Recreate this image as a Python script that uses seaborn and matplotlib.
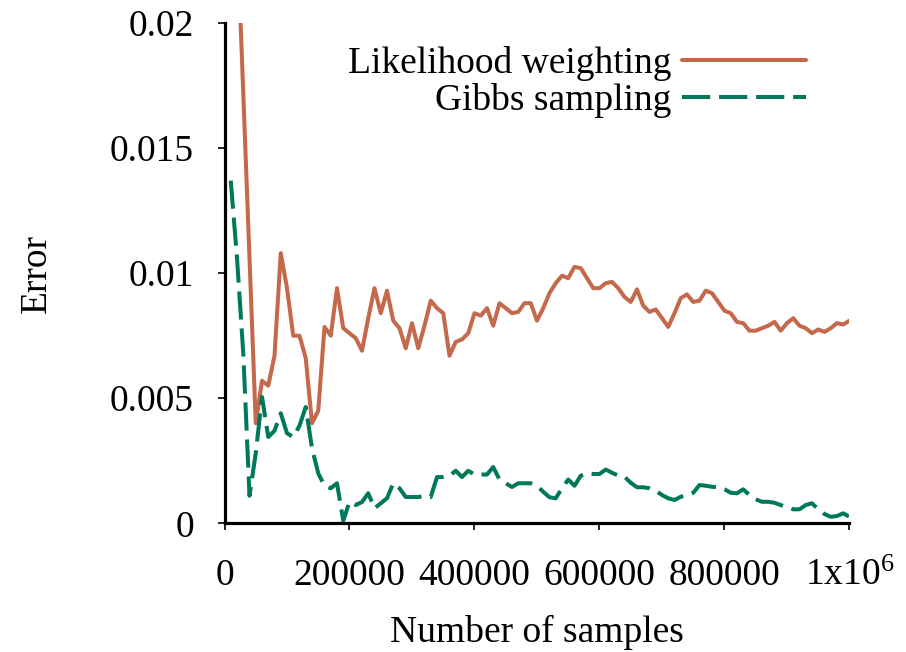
import numpy as np
import pandas as pd
import matplotlib
matplotlib.use("Agg")
import matplotlib.pyplot as plt
import seaborn as sns

# ---- data ----
num_samples = np.arange(10000, 1000001, 10000)

likelihood_weighting = [
    40.0, 23.8, 17.2, 10.6, 4.0, 5.7, 5.5, 6.7, 10.8, 9.4,
    7.5, 7.5, 6.6, 4.0, 4.5, 7.85, 7.5, 9.4, 7.8, 7.6,
    7.4, 6.9, 8.2, 9.4, 8.4, 9.3, 8.1, 7.8, 7.0, 8.0,
    7.0, 7.9, 8.9, 8.6, 8.4, 6.7, 7.25, 7.35, 7.6, 8.4,
    8.3, 8.6, 7.9, 8.8, 8.6, 8.4, 8.45, 8.8, 8.8, 8.1,
    8.6, 9.2, 9.6, 9.9, 9.8, 10.25, 10.2, 9.8, 9.4, 9.4,
    9.6, 9.65, 9.4, 9.05, 8.85, 9.35, 8.7, 8.45, 8.55, 8.2,
    7.85, 8.4, 9.0, 9.15, 8.85, 8.9, 9.3, 9.2, 8.85, 8.5,
    8.4, 8.05, 8.0, 7.7, 7.7, 7.8, 7.9, 8.05, 7.7, 8.0,
    8.2, 7.9, 7.8, 7.6, 7.75, 7.65, 7.8, 8.0, 7.95, 8.1,
]
gibbs_sampling = [
    13.7, 10.6, 6.8, 1.1, 2.8, 5.05, 3.45, 3.7, 4.4, 3.6,
    3.45, 3.9, 4.65, 3.0, 2.0, 1.5, 1.4, 1.6, 0.1, 0.86,
    0.73, 0.85, 1.2, 0.6, 0.8, 1.0, 1.6, 1.4, 1.05, 1.05,
    1.05, 1.1, 1.05, 1.85, 1.85, 1.9, 2.1, 1.85, 2.1, 1.95,
    1.95, 1.95, 2.25, 1.75, 1.6, 1.45, 1.6, 1.6, 1.6, 1.5,
    1.26, 1.04, 1.0, 1.4, 1.75, 1.5, 1.9, 2.0, 1.97, 1.97,
    2.15, 2.02, 1.91, 1.86, 1.62, 1.44, 1.44, 1.4, 1.3, 1.13,
    1.0, 0.93, 1.06, 1.13, 1.22, 1.53, 1.5, 1.46, 1.44, 1.36,
    1.22, 1.2, 1.36, 1.13, 0.96, 0.86, 0.86, 0.82, 0.73, 0.64,
    0.56, 0.56, 0.73, 0.8, 0.56, 0.37, 0.26, 0.29, 0.4, 0.26,
]
series_names = ["Likelihood weighting", "Gibbs sampling"]
x_ticks = [0, 200000, 400000, 600000, 800000, 1000000]
x_tick_labels = ["0", "200000", "400000", "600000", "800000", "1x10$^{6}$"]
y_ticks = [0, 0.005, 0.01, 0.015, 0.02]
y_tick_labels = ["0", "0.005", "0.01", "0.015", "0.02"]

# ---- style ----
sns.set_style("ticks")
plt.rcParams["font.family"] = ["Liberation Serif", "DejaVu Serif"]
plt.rcParams["mathtext.fontset"] = "custom"
plt.rcParams["mathtext.rm"] = "Liberation Serif"
plt.rcParams["mathtext.it"] = "Liberation Serif"
plt.rcParams["text.color"] = "black"
plt.rcParams["axes.labelcolor"] = "black"
plt.rcParams["xtick.color"] = "black"
plt.rcParams["ytick.color"] = "black"

FS = 27
colors = ["#C4694B", "#00795A"]

fig = plt.figure(figsize=(9.06, 6.52), dpi=100)
ax = fig.add_axes([0.2478, 0.1974, 0.6898, 0.7673])

lw_df = pd.DataFrame({"x": num_samples, "y": np.array(likelihood_weighting) * 1e-3})
gs_df = pd.DataFrame({"x": num_samples, "y": np.array(gibbs_sampling) * 1e-3})

sns.lineplot(data=lw_df, x="x", y="y", ax=ax, color=colors[0], linewidth=2.9,
             estimator=None, label=series_names[0])
sns.lineplot(data=gs_df, x="x", y="y", ax=ax, color=colors[1], linewidth=2.9,
             estimator=None, label=series_names[1], linestyle=(0, (7.0, 2.2)))

ax.set_xlim(0, 1000000)
ax.set_ylim(0, 0.02)
ax.set_xticks(x_ticks)
ax.set_xticklabels(x_tick_labels)
ax.set_yticks(y_ticks)
ax.set_yticklabels(y_tick_labels)

for s in ["top", "right"]:
    ax.spines[s].set_visible(False)
for s in ["left", "bottom"]:
    ax.spines[s].set_linewidth(2.3)
    ax.spines[s].set_color("black")

ax.tick_params(axis="x", direction="out", length=5, width=1.2, pad=20, labelsize=FS,
               colors="black", labelcolor="black")
ax.tick_params(axis="y", direction="out", length=5, width=1.2, pad=17, labelsize=FS,
               colors="black", labelcolor="black")

ax.set_xlabel("Number of samples", fontsize=FS, labelpad=16, color="black")
ax.set_ylabel("Error", fontsize=FS, labelpad=40, color="black")

leg = ax.legend(loc="upper right", bbox_to_anchor=(806 / 906, 1 - 46 / 652),
                bbox_transform=fig.transFigure, frameon=False, fontsize=FS,
                markerfirst=False, handlelength=3.3, handletextpad=0.3,
                labelspacing=0.05, borderaxespad=0, borderpad=0)
for t in leg.get_texts():
    t.set_ha("right")
    t.set_color("black")

fig.savefig("out.png", dpi=100)
